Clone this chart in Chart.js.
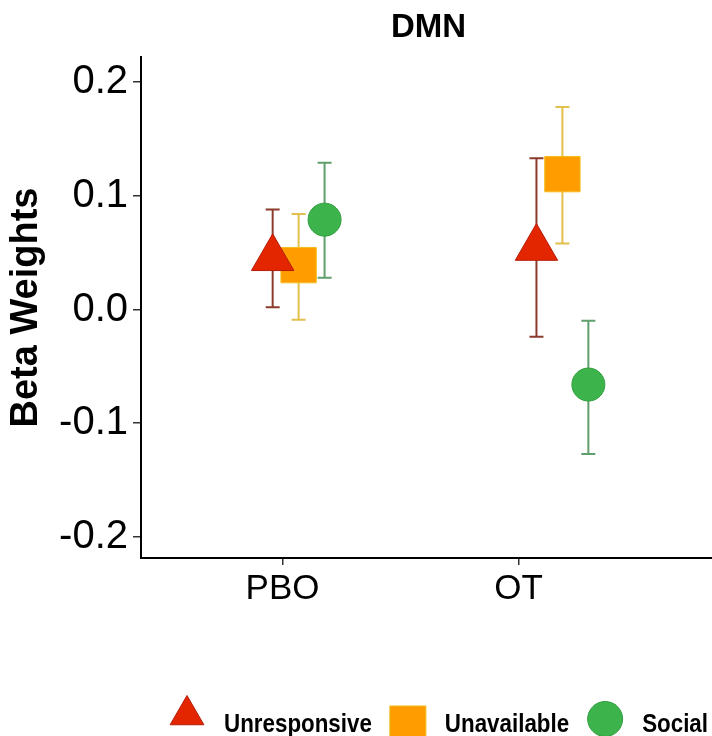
<!DOCTYPE html>
<html>
<head>
<meta charset="utf-8">
<title>DMN</title>
<script src="https://cdn.jsdelivr.net/npm/chart.js@4.4.1/dist/chart.umd.min.js"></script>
<style>
    html, body { margin: 0; padding: 0; background: #fff; }
    #wrap { width: 712px; height: 736px; }
</style>
</head>
<body>
<div id="wrap"><canvas id="dmnChart" width="712" height="736"></canvas></div>
<script>
// Conditions on the x axis and fixed y ticks
const conditions = ['PBO', 'OT'];
const yTicks = [-0.2, -0.1, 0.0, 0.1, 0.2];

// Beta weights per condition, with lower / upper error bounds
const unresponsive     = [0.045, 0.054];
const unresponsiveLow  = [0.002, -0.024];
const unresponsiveHigh = [0.088, 0.133];

const unavailable      = [0.039, 0.119];
const unavailableLow   = [-0.009, 0.058];
const unavailableHigh  = [0.084, 0.178];

const social           = [0.079, -0.066];
const socialLow        = [0.028, -0.127];
const socialHigh       = [0.129, -0.010];

const FONT = "'Liberation Sans', Arial, Helvetica, sans-serif";

// Dodge markers sideways within each condition (x axis units)
const dodgeStep = 0.11;
const groupShift = [0.068, 0.186];

function dodgedX(groupIndex, seriesIndex) {
    return groupIndex + 1 + groupShift[groupIndex] + (seriesIndex - 1) * dodgeStep;
}

const series = [
    { label: 'Unresponsive', values: unresponsive, low: unresponsiveLow, high: unresponsiveHigh,
      shape: 'triangle', radius: 24.5, legendRadius: 19.5, legendDy: -4,
      fill: '#e42600', border: '#b51d08', bar: '#8b3b2c' },
    { label: 'Unavailable', values: unavailable, low: unavailableLow, high: unavailableHigh,
      shape: 'rect', radius: 25, legendRadius: 25.5, legendDy: 5,
      fill: '#ff9c00', border: '#f2be1c', bar: '#e2c04c' },
    { label: 'Social', values: social, low: socialLow, high: socialHigh,
      shape: 'circle', radius: 16.5, legendRadius: 17.5, legendDy: 0,
      fill: '#3cb44b', border: '#2f9c3d', bar: '#5f9f6c' }
];

const datasets = series.map((s, si) => ({
    label: s.label,
    data: s.values.map((v, gi) => ({ x: dodgedX(gi, si), y: v })),
    low: s.low,
    high: s.high,
    barColor: s.bar,
    pointStyle: s.shape,
    pointRadius: s.radius,
    pointHoverRadius: s.radius,
    backgroundColor: s.fill,
    borderColor: s.border,
    borderWidth: 1,
    showLine: false
}));

// Vertical error bars with caps, drawn underneath the markers
const errorBars = {
    id: 'errorBars',
    beforeDatasetsDraw(chart) {
        const { ctx, scales: { x, y } } = chart;
        const cap = 7;
        ctx.save();
        ctx.lineWidth = 2;
        chart.data.datasets.forEach(ds => {
            ctx.strokeStyle = ds.barColor;
            ds.data.forEach((pt, i) => {
                const px = x.getPixelForValue(pt.x);
                const top = y.getPixelForValue(ds.high[i]);
                const bot = y.getPixelForValue(ds.low[i]);
                ctx.beginPath();
                ctx.moveTo(px, top);
                ctx.lineTo(px, bot);
                ctx.moveTo(px - cap, top);
                ctx.lineTo(px + cap, top);
                ctx.moveTo(px - cap, bot);
                ctx.lineTo(px + cap, bot);
                ctx.stroke();
            });
        });
        ctx.restore();
    }
};

function drawMarker(ctx, shape, cx, cy, r, fill, border) {
    ctx.beginPath();
    if (shape === 'triangle') {
        ctx.moveTo(cx, cy - r);
        ctx.lineTo(cx + r * Math.sqrt(3) / 2, cy + r / 2);
        ctx.lineTo(cx - r * Math.sqrt(3) / 2, cy + r / 2);
        ctx.closePath();
    } else if (shape === 'rect') {
        const h = r * Math.SQRT1_2;
        ctx.rect(cx - h, cy - h, 2 * h, 2 * h);
    } else {
        ctx.arc(cx, cy, r, 0, Math.PI * 2);
    }
    ctx.fillStyle = fill;
    ctx.fill();
    ctx.strokeStyle = border;
    ctx.lineWidth = 1;
    ctx.stroke();
}

// Title over the plot panel and the key along the bottom edge
const titleAndKey = {
    id: 'titleAndKey',
    afterDraw(chart) {
        const { ctx, chartArea } = chart;
        ctx.save();
        ctx.fillStyle = '#000';
        ctx.textAlign = 'center';
        ctx.textBaseline = 'alphabetic';
        ctx.font = `bold 33px ${FONT}`;
        ctx.fillText('DMN', (chartArea.left + chartArea.right) / 2 + 2, 37);

        const squeeze = 0.86;
        const markerY = 719;
        const textY = 732;
        let x = 187;
        ctx.font = `bold 26px ${FONT}`;
        ctx.textAlign = 'left';
        series.forEach(s => {
            drawMarker(ctx, s.shape, x, markerY + s.legendDy, s.legendRadius, s.fill, s.border);
            const tx = x + 37;
            ctx.save();
            ctx.translate(tx, textY);
            ctx.scale(squeeze, 1);
            ctx.fillStyle = '#000';
            ctx.fillText(s.label, 0, 0);
            ctx.restore();
            x = tx + ctx.measureText(s.label).width * squeeze + 36;
        });
        ctx.restore();
    }
};

new Chart(document.getElementById('dmnChart'), {
    type: 'scatter',
    data: { datasets },
    plugins: [errorBars, titleAndKey],
    options: {
        responsive: false,
        animation: false,
        events: [],
        layout: {
            autoPadding: false,
            padding: { top: 57, right: 0, bottom: 108, left: 0 }
        },
        plugins: {
            legend: { display: false },
            title: { display: false },
            tooltip: { enabled: false }
        },
        scales: {
            x: {
                type: 'linear',
                min: 0.4,
                max: 2.82,
                afterBuildTicks(scale) {
                    scale.ticks = conditions.map((c, i) => ({ value: i + 1 }));
                },
                afterFit(scale) {
                    scale.height = 70;
                    scale.paddingLeft = 0;
                    scale.paddingRight = 0;
                },
                ticks: {
                    callback: (value, index) => conditions[index],
                    font: { family: FONT, size: 35 },
                    color: '#000',
                    padding: 3,
                    autoSkip: false,
                    maxRotation: 0
                },
                grid: { drawOnChartArea: false, tickLength: 7, lineWidth: 1.5, color: '#333' },
                border: { display: true, color: '#000', width: 2 }
            },
            y: {
                min: -0.2185,
                max: 0.222,
                afterBuildTicks(scale) {
                    scale.ticks = yTicks.map(v => ({ value: v }));
                },
                afterFit(scale) { scale.width = 141; },
                ticks: {
                    callback: value => value.toFixed(1),
                    font: { family: FONT, size: 40 },
                    color: '#000',
                    padding: 5
                },
                grid: { drawOnChartArea: false, tickLength: 8, lineWidth: 1.5, color: '#333' },
                border: { display: true, color: '#000', width: 2 },
                title: {
                    display: true,
                    text: 'Beta Weights',
                    font: { family: FONT, size: 38, weight: 'bold' },
                    color: '#000',
                    padding: 4
                }
            }
        }
    }
});
</script>
</body>
</html>
